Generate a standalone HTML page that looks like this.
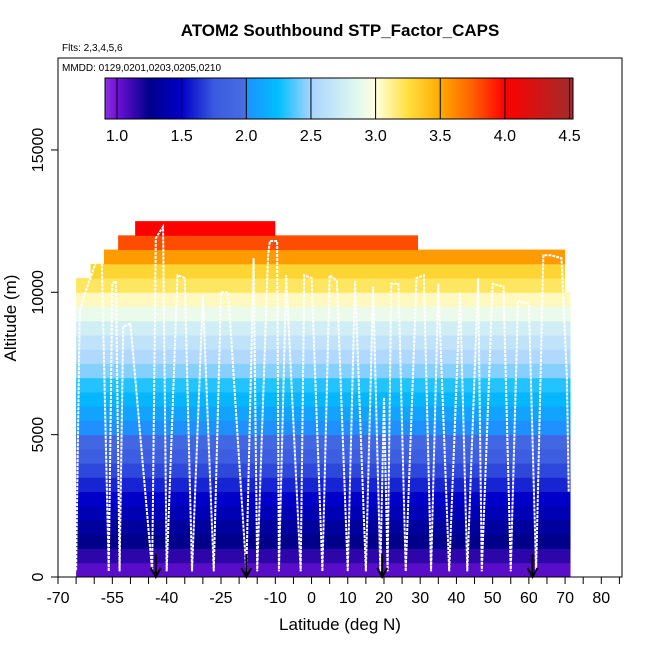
<!DOCTYPE html>
<html><head><meta charset="utf-8"><style>
body{margin:0;background:#fff;}
svg text{font-family:"Liberation Sans",Arial,sans-serif;}
</style></head><body>
<svg id="chart" width="650" height="650" xmlns="http://www.w3.org/2000/svg">
<text x="340" y="36" text-anchor="middle" font-size="17" font-weight="bold">ATOM2 Southbound STP_Factor_CAPS</text>
<text x="62" y="51" font-size="10">Flts: 2,3,4,5,6</text>
<g id="heat"></g>
<g id="track"></g>
<g id="arrows"></g>
<rect x="58" y="58" width="564" height="519" fill="none" stroke="#000" stroke-width="1"/>
<text x="62" y="71" font-size="10">MMDD: 0129,0201,0203,0205,0210</text>
<g id="cbar"></g>
<g id="cbticks"></g>
<g id="axes"></g>
<text x="340" y="630" text-anchor="middle" font-size="17">Latitude (deg N)</text>
<text x="0" y="0" transform="translate(16,318) rotate(-90)" text-anchor="middle" font-size="17">Altitude (m)</text>
</svg>
<script>
const xTicks=[-70,-65,-60,-55,-50,-45,-40,-35,-30,-25,-20,-15,-10,-5,0,5,10,15,20,25,30,35,40,45,50,55,60,65,70,75,80,85];
const xLabels=[-70,-55,-40,-25,-10,0,10,20,30,40,50,60,70,80];
const yTicks=[0,5000,10000,15000];
const cbTicks=[1.0,1.5,2.0,2.5,3.0,3.5,4.0,4.5];
const rowValues=[1.05,1.15,1.25,1.32,1.42,1.5,1.6,1.7,1.8,1.9,2.0,2.1,2.2,2.3,2.45,2.55,2.65,2.75,2.9,3.05,3.2,3.3,3.55,3.8,4.0];
const rowLeft=[-65,-65,-65,-65,-65,-65,-65,-65,-65,-65,-65,-65,-65,-65,-65,-65,-65,-65,-65,-65,-65,-61,-57.3,-53.4,-48.7];
const rowRight=[71.5,71.5,71.5,71.5,71.5,71.5,71.5,71.5,71.5,71.5,71.5,71.5,71.5,71.5,71.5,71.5,71.5,71.5,71.5,71.5,70,70,70,29.4,-10];
const trackLat=[71,70.5,69,66,64,62,60,57,55,53,50,47,46,43,41,38,35,33,31,29,26,24,22,21,20,19,17,15,12,10,7,5,3,0,-2,-3,-7,-9,-9.5,-11.5,-12,-15,-16,-18,-23,-25,-27,-30,-33,-35,-37,-40,-41,-43,-44,-50,-52,-53,-54,-55,-56,-58,-63,-64,-65];
const trackAlt=[3000,7000,11200,11300,11300,200,9600,9700,200,10200,10300,200,10500,200,10000,200,10300,200,10600,10500,200,10300,10300,200,6300,200,10200,200,10400,200,10400,10600,200,10500,10600,200,10600,200,11800,11800,11300,200,11200,200,10000,10000,200,9900,200,10500,10600,200,12300,11900,200,8900,8800,200,10400,10300,200,11600,9800,9300,200];
const arrowLat=[-43,-18,19.5,61];
const ALT_STEP=500;
const X=v=>58+(v+70)*3.622;
const Y=v=>577-v*0.02847;
const CB=v=>117+(v-1)*129.3;
const stops=[[0.92,[138,43,226]],[1.0,[112,16,216]],[1.25,[0,0,139]],[1.5,[0,0,200]],[1.75,[58,90,224]],[1.99,[70,110,228]],[2.0,[30,144,255]],[2.25,[0,191,255]],[2.5,[168,212,255]],[2.85,[224,248,240]],[3.0,[255,255,224]],[3.25,[255,224,64]],[3.5,[255,170,0]],[3.75,[255,96,0]],[4.0,[255,0,0]],[4.5,[165,42,42]]];
function col(v){for(let i=1;i<stops.length;i++){if(v<=stops[i][0]){const a=stops[i-1],b=stops[i],t=(v-a[0])/(b[0]-a[0]);return 'rgb('+a[1].map((c,k)=>Math.round(c+(b[1][k]-c)*t)).join(',')+')';}}return 'rgb(165,42,42)';}
const NS='http://www.w3.org/2000/svg';
function mk(t,a,p){const e=document.createElementNS(NS,t);for(const k in a)e.setAttribute(k,a[k]);p.appendChild(e);return e;}
const cb=document.getElementById('cbar');
for(let px=105;px<573;px++){const v=1+(px+0.5-117)/129.3;mk('rect',{x:px,y:78,width:1.2,height:41,fill:col(v)},cb);}
mk('rect',{x:105,y:78,width:468,height:41,fill:'none',stroke:'#000'},cb);
const heat=document.getElementById('heat');
rowValues.forEach((v,i)=>{
  const r=mk('rect',{x:X(rowLeft[i]),y:Y((i+1)*ALT_STEP),width:X(rowRight[i])-X(rowLeft[i]),height:Y(i*ALT_STEP)-Y((i+1)*ALT_STEP)+0.5,fill:col(v)},heat);
  
  
});
const track=document.getElementById('track');
const pts=trackLat.map((la,i)=>X(la)+','+Y(trackAlt[i])).join(' ');
const pl=mk('polyline',{points:pts,fill:'none',stroke:'#fff','stroke-width':2,'stroke-dasharray':'3,1'},track);


const ar=document.getElementById('arrows');
arrowLat.forEach(la=>{
  const g=mk('g',{},ar);
  
  
  mk('line',{x1:X(la),x2:X(la),y1:554,y2:576,stroke:'#000','stroke-width':2},g);
  mk('polyline',{points:(X(la)-5)+',568 '+X(la)+',577 '+(X(la)+5)+',568',fill:'none',stroke:'#000','stroke-width':2},g);
});
const cbt=document.getElementById('cbticks');
cbTicks.forEach(v=>{
  mk('line',{x1:CB(v),x2:CB(v),y1:78,y2:119,stroke:'#000','stroke-width':1},cbt);
  const t=mk('text',{x:CB(v),y:141,'text-anchor':'middle','font-size':16},cbt);t.textContent=v.toFixed(1);
  
  
});
const ax=document.getElementById('axes');
mk('line',{x1:X(-70),x2:X(85),y1:577,y2:577,stroke:'#000'},ax);
xTicks.forEach(v=>mk('line',{x1:X(v),x2:X(v),y1:577,y2:584,stroke:'#000'},ax));
xLabels.forEach(v=>{const t=mk('text',{x:X(v),y:603,'text-anchor':'middle','font-size':16},ax);t.textContent=v;
  
  });
yTicks.forEach(v=>{mk('line',{x1:51,x2:58,y1:Y(v),y2:Y(v),stroke:'#000'},ax);
  const t=mk('text',{x:0,y:0,transform:'translate(43,'+Y(v)+') rotate(-90)','text-anchor':'middle','font-size':16},ax);t.textContent=v;
  
  });
</script>
</body></html>
